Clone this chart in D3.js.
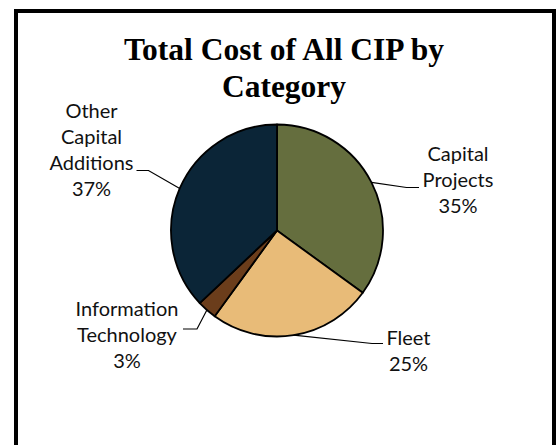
<!DOCTYPE html>
<html>
<head>
<meta charset="utf-8">
<script src="https://cdn.jsdelivr.net/npm/d3@7"></script>
<style>
  html, body { margin: 0; padding: 0; background: #fff; }
  svg { display: block; }
</style>
</head>
<body>
<svg id="chart" width="556" height="445"></svg>
<script>
// ---- data ----
const categories = ["Capital Projects", "Fleet", "Information Technology", "Other Capital Additions"];
const values = [35, 25, 3, 37];
const labelLines = [["Capital", "Projects"], ["Fleet"], ["Information", "Technology"], ["Other", "Capital", "Additions"]];
const colors = ["#656e3e", "#e8bb78", "#6b3d1b", "#0b2537"];
const titleLines = ["Total Cost of All CIP by", "Category"];

// ---- layout ----
const svg = d3.select("#chart");
const W = 556, H = 445;
const cx = 277, cy = 230.5, R = 106;

svg.append("rect").attr("x", 0).attr("y", 0).attr("width", W).attr("height", H).attr("fill", "#fff");
svg.append("rect")
  .attr("x", 16).attr("y", 11).attr("width", 538).attr("height", 520)
  .attr("fill", "none").attr("stroke", "#000").attr("stroke-width", 4);

// title
const title = svg.append("text")
  .attr("text-anchor", "middle")
  .attr("font-family", "'Liberation Serif', 'Times New Roman', serif")
  .attr("font-weight", "bold")
  .attr("font-size", 31.5)
  .attr("fill", "#000");
title.selectAll("tspan").data(titleLines).join("tspan")
  .attr("x", 284)
  .attr("y", (d, i) => 60 + i * 37)
  .text(d => d);

// pie
const pie = d3.pie().sort(null).value(d => d)(values);
const arc = d3.arc().innerRadius(0).outerRadius(R);
const g = svg.append("g").attr("transform", `translate(${cx},${cy})`);
g.selectAll("path.slice").data(pie).join("path")
  .attr("class", "slice")
  .attr("d", arc)
  .attr("fill", (d, i) => colors[i])
  .attr("stroke", "#000")
  .attr("stroke-width", 1.8)
  .attr("stroke-linejoin", "round");

// labels: per-label layout (label anchor center, first baseline; leader elbow and end)
const labelLayout = [
  { x: 458, y: 161, elbow: [406.5, 187.5], end: [419, 187.5] },
  { x: 408.5, y: 345, elbow: [372, 343.5], end: [383, 343.5] },
  { x: 127, y: 316, elbow: [197, 329], end: [183, 329] },
  { x: 91.5, y: 118, elbow: [148.5, 170.5], end: [136.5, 170.5] }
];
const lineH = 26;

pie.forEach((d, i) => {
  const a = (d.startAngle + d.endAngle) / 2;
  const sx = cx + R * Math.sin(a), sy = cy - R * Math.cos(a);
  const L = labelLayout[i];
  svg.append("path")
    .attr("d", d3.line()([[sx, sy], L.elbow, L.end]))
    .attr("fill", "none")
    .attr("stroke", "#000")
    .attr("stroke-width", 1.2);
  const t = svg.append("text")
    .attr("text-anchor", "middle")
    .attr("font-family", "Lato, 'Open Sans', sans-serif")
    .attr("font-size", 20)
    .attr("fill", "#111");
  const lines = labelLines[i].concat([d3.format(".0%")(values[i] / d3.sum(values))]);
  t.selectAll("tspan").data(lines).join("tspan")
    .attr("x", L.x)
    .attr("y", (s, j) => L.y + j * lineH)
    .text(s => s);
});
</script>
</body>
</html>
